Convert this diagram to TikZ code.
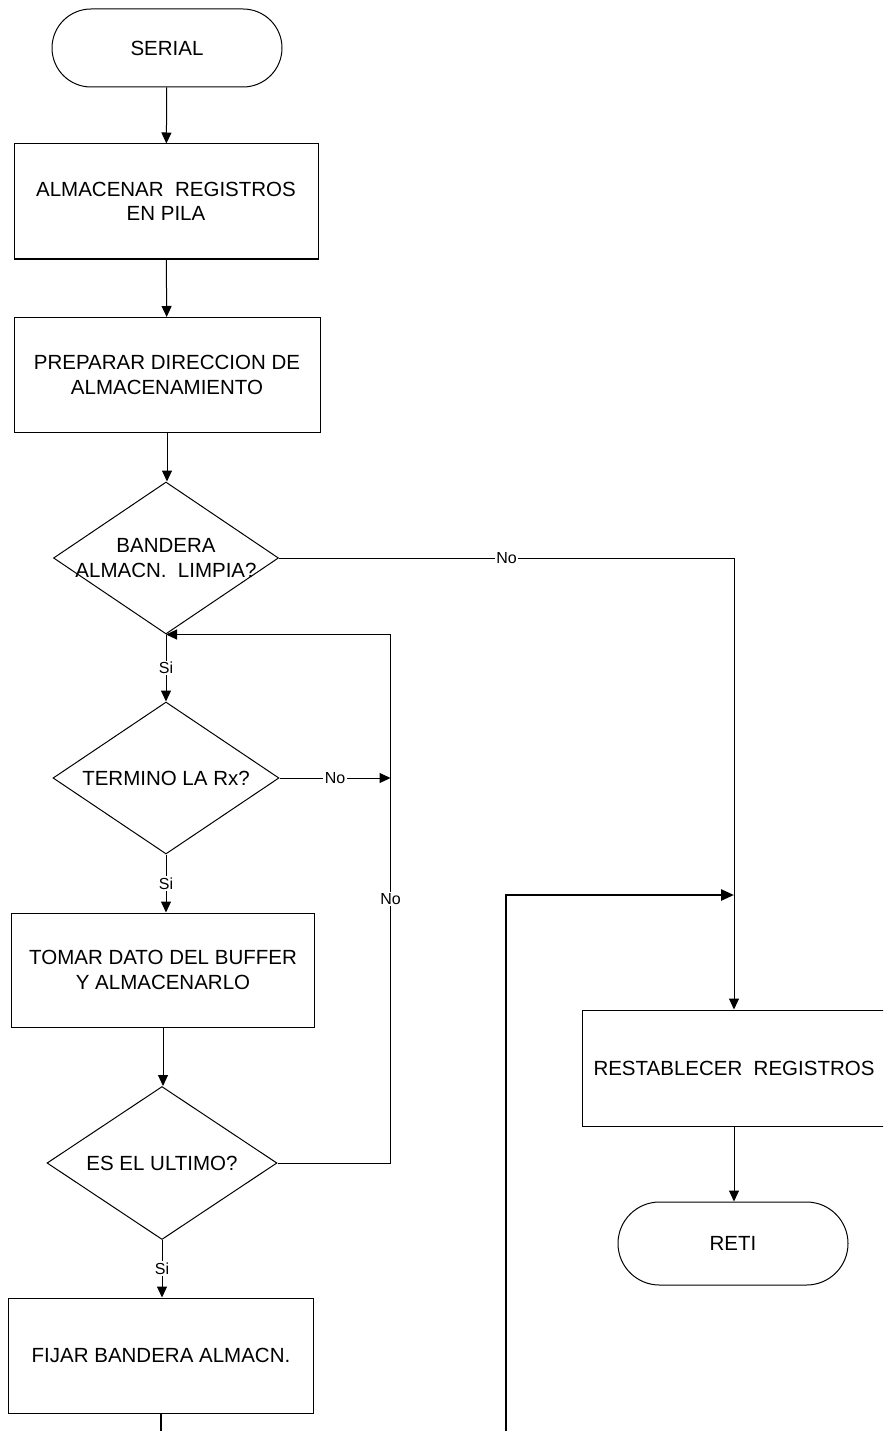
\documentclass[tikz,border=0pt]{standalone}
\usepackage{fontspec}
\setmainfont{Liberation Sans}
\usetikzlibrary{shapes.geometric,arrows.meta}
\begin{document}
\begin{tikzpicture}[x=1pt,y=-1pt,
  font=\fontsize{20.5}{24.5}\selectfont,
  line/.style={draw=black, line width=1pt},
  arr/.style={line, -{Triangle[length=11pt,width=10pt]}},
  heavy/.style={draw=black, line width=2.6pt},
  harr/.style={heavy, -{Triangle[length=13pt,width=11pt]}},
  stepbox/.style={draw, line width=1pt, minimum width=304pt, minimum height=115pt, align=center, inner sep=0pt},
  term/.style={draw, line width=1pt, minimum width=230pt, inner sep=0pt},
  decision/.style={draw, line width=1pt, diamond, inner sep=0pt, minimum width=226pt, minimum height=152pt},
  qtext/.style={align=center, inner sep=0pt},
  lbl/.style={fill=white, inner sep=1.5pt, font=\fontsize{16}{19}\selectfont},
]
% page frame
\clip (0,0) rectangle (883,1431);
\fill[white] (0,0) rectangle (883,1431);

% main column
\node[term, rounded corners=39pt, minimum height=78pt] (serial) at (167,48) {SERIAL};
\node[stepbox] (b1) at (166,201.5) {ALMACENAR~ REGISTROS\\EN PILA};
\node[stepbox, minimum width=306pt] (b2) at (167,375) {PREPARAR DIRECCION DE\\ALMACENAMIENTO};
\node[decision, minimum width=225pt] (d1) at (166,558) {};
\node[qtext] (d1t) at (d1) {BANDERA\\ALMACN.~ LIMPIA?};
\node[decision] (d2) at (166,778) {};
\node[qtext] (d2t) at (d2) {TERMINO LA Rx?};
\node[stepbox, minimum width=303pt, minimum height=114pt] (b3) at (163,970) {TOMAR DATO DEL BUFFER\\Y ALMACENARLO};
\node[decision, minimum width=230pt, minimum height=153pt] (d3) at (162,1163) {};
\node[qtext] (d3t) at (d3) {ES EL ULTIMO?};
\node[stepbox, minimum width=305pt] (b4) at (161,1355.5) {FIJAR BANDERA ALMACN.};

% right column
\node[stepbox, minimum height=116pt] (b5) at (734,1068) {RESTABLECER~ REGISTROS};
\node[term, rounded corners=41.5pt, minimum height=83pt] (reti) at (733,1243.5) {RETI};

% helper points
\path (d3.east) ++(113,0) coordinate (fbR);
\coordinate (fbT) at (d1.south -| fbR);
\path (b4.south) ++(0,40) coordinate (offA);
\coordinate (offB) at (506,1445);
\coordinate (jn) at (734,895);

% connectors
\draw[arr] (serial) -- (b1);
\draw[arr] (b1) -- (b2);
\draw[arr] (b2.south) -- (b2.south |- d1.north);
\draw[arr] (d1.east) -- node[lbl]{No} (d1.east -| b5.north) -- (b5.north);
\draw[arr] (d1.south) -- node[lbl]{Si} (d2.north);
\draw[arr] (d2.east) -- node[lbl]{No} (d2.east -| fbR);
\draw[arr] (d2.south) -- node[lbl]{Si} (d2.south |- b3.north);
\draw[arr] (b3.south) -- (b3.south |- d3.north);
\draw[arr] (d3.east) -- (fbR) -- node[lbl]{No} (fbT) -- (d1.south);
\draw[arr] (d3.south) -- node[lbl]{Si} (d3.south |- b4.north);
\draw[heavy] (b4.south) -- (offA);
\draw[harr] (offB) |- (jn);
\draw[arr] (b5.south) -- (b5.south |- reti.north);
\end{tikzpicture}
\end{document}
